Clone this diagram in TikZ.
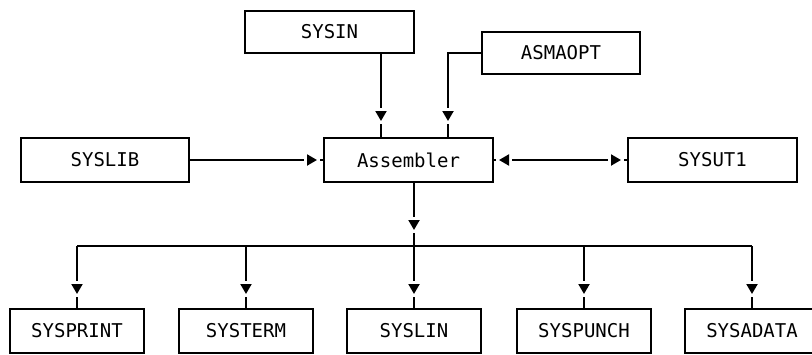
\documentclass[tikz,border=0pt]{standalone}
\usepackage{fontspec}
\setmonofont{DejaVu Sans Mono}
\usetikzlibrary{arrows.meta,decorations.markings}
\tikzset{
  box/.style={draw=black, line width=2pt, fill=white, inner sep=0pt,
    font=\ttfamily\fontsize{19}{21}\selectfont},
  conn/.style={draw=black, line width=2pt},
  tipend/.style={postaction={decorate}, decoration={markings,
    mark=at position -#1 with {\fill[white] (-13pt,-7pt) rectangle (3pt,7pt);
      \arrow{Triangle[length=10pt,width=11pt]}}}},
  tipstart/.style={postaction={decorate}, decoration={markings,
    mark=at position #1 with {\fill[white] (13pt,-7pt) rectangle (-3pt,7pt);
      \arrowreversed{Triangle[length=10pt,width=11pt]}}}},
}
\begin{document}
\begin{tikzpicture}[x=1pt,y=-1pt]
\useasboundingbox (0,0) rectangle (812,354);
% top row
\node[box, minimum width=169pt, minimum height=42pt] (sysin) at (329.5,32) {SYSIN};
\node[box, minimum width=158pt, minimum height=42pt] (asmaopt) at (561,53) {ASMAOPT};
% middle row
\node[box, minimum width=168pt, minimum height=44pt] (syslib) at (105,160) {SYSLIB};
\node[box, minimum width=169pt, minimum height=44pt] (asm) at (408.5,160) {Assembler};
\node[box, minimum width=169pt, minimum height=44pt] (sysut) at (712.5,160) {SYSUT1};
% bottom row
\node[box, minimum width=134pt, minimum height=44pt] (sysprint) at (77,331) {SYSPRINT};
\node[box, minimum width=134pt, minimum height=44pt] (systerm) at (246,331) {SYSTERM};
\node[box, minimum width=134pt, minimum height=44pt] (syslin) at (414,331) {SYSLIN};
\node[box, minimum width=134pt, minimum height=44pt] (syspunch) at (584,331) {SYSPUNCH};
\node[box, minimum width=134pt, minimum height=44pt] (sysadata) at (752,331) {SYSADATA};
% helper coordinates
\coordinate (xa) at (381,0);
\coordinate (xb) at (448,0);
\coordinate (xc) at (414,0);
\coordinate (busy) at (0,246);
\coordinate (bus) at (414,246);
% connectors
\path[conn, tipend=16pt] (sysin.south -| xa) -- (asm.north -| xa);
\path[conn, tipend=16pt] (asmaopt.west) -| (asm.north -| xb);
\path[conn, tipend=6pt] (syslib.east) -- (asm.west);
\path[conn, tipend=6pt, tipstart=5pt] (asm.east) -- (sysut.west);
\path[conn, tipend=16pt] (asm.south -| xc) -- (bus);
\path[conn] (sysprint.north |- busy) -- (sysadata.north |- busy);
\path[conn, tipend=14pt] (sysprint.north |- busy) -- (sysprint.north);
\path[conn, tipend=14pt] (systerm.north |- busy) -- (systerm.north);
\path[conn, tipend=14pt] (bus) -- (syslin.north);
\path[conn, tipend=14pt] (syspunch.north |- busy) -- (syspunch.north);
\path[conn, tipend=14pt] (sysadata.north |- busy) -- (sysadata.north);
\end{tikzpicture}
\end{document}
